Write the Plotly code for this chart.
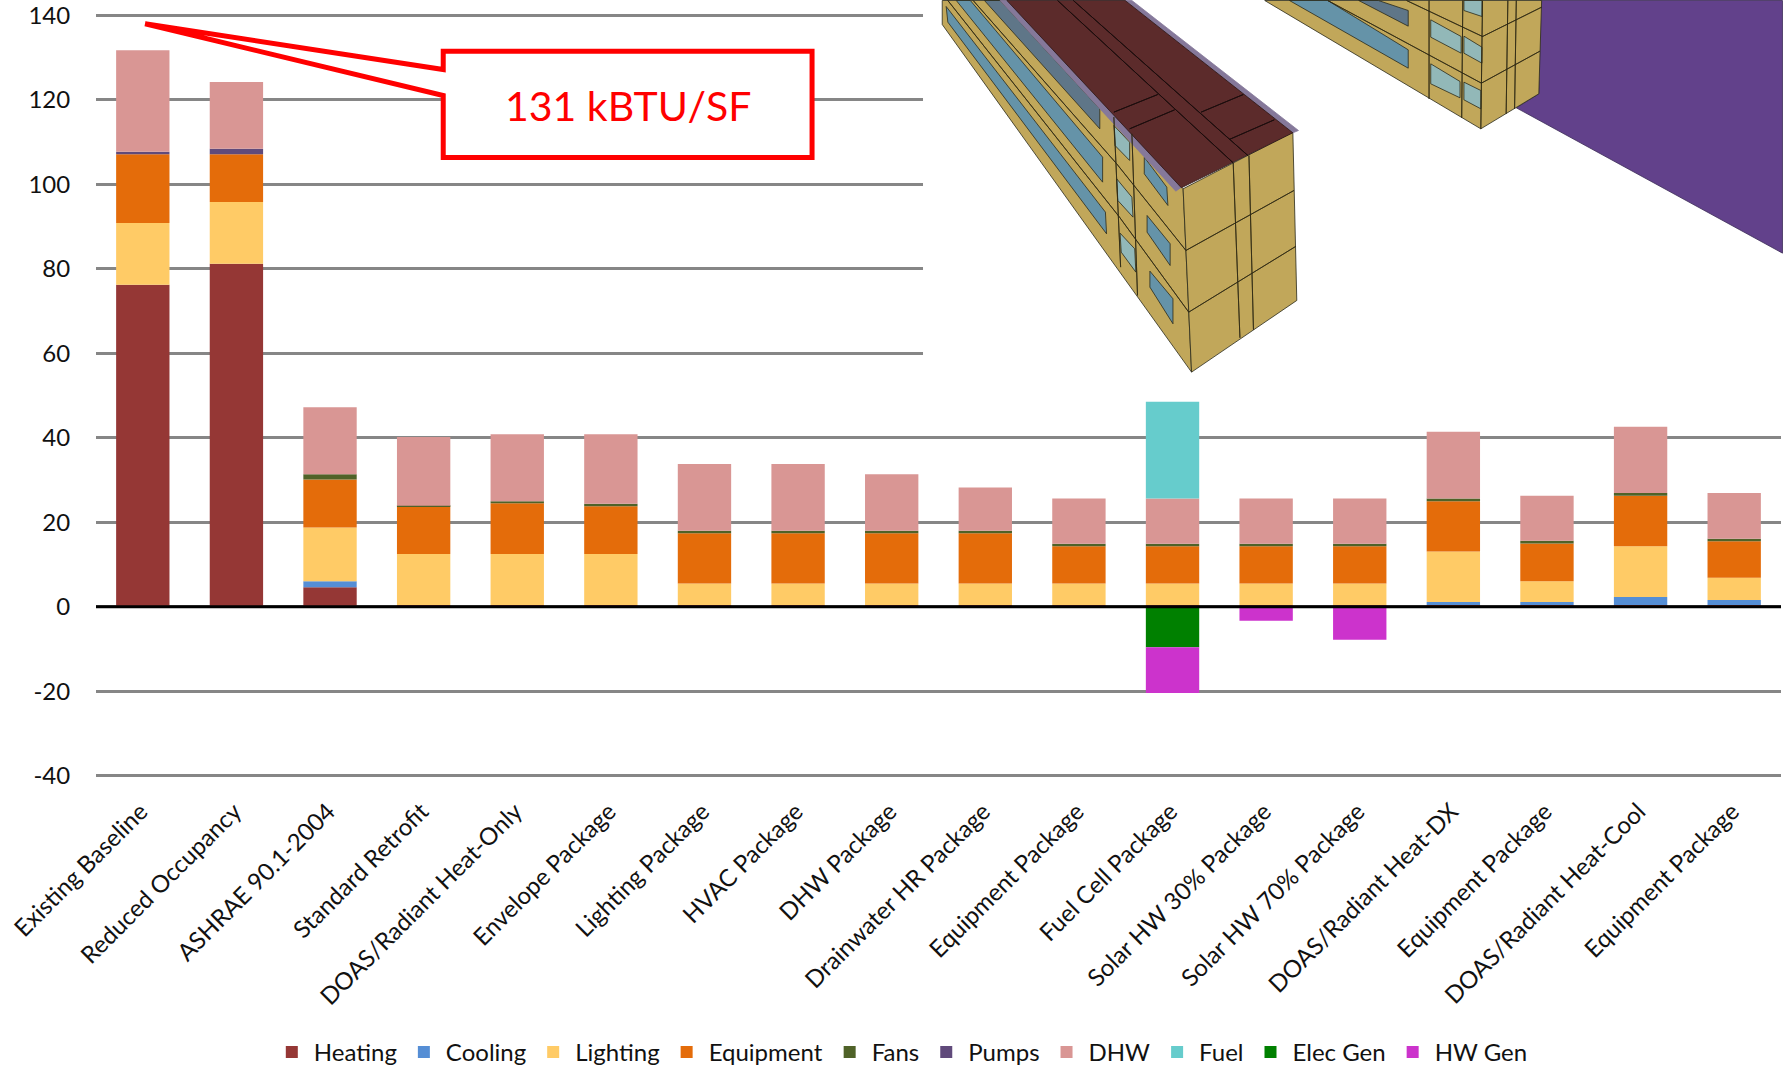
import plotly.graph_objects as go

categories = ["Existing Baseline", "Reduced Occupancy", "ASHRAE 90.1-2004", "Standard Retrofit",
              "DOAS/Radiant Heat-Only", "Envelope Package", "Lighting Package", "HVAC Package",
              "DHW Package", "Drainwater HR Package", "Equipment Package", "Fuel Cell Package",
              "Solar HW 30% Package", "Solar HW 70% Package", "DOAS/Radiant Heat-DX",
              "Equipment Package", "DOAS/Radiant Heat-Cool", "Equipment Package"]

heating   = [76.2, 81.2, 4.6, 0.4, 0.4, 0.4, 0.4, 0.4, 0.4, 0.4, 0.4, 0.4, 0.4, 0.4, 0.4, 0.4, 0.4, 0.4]
cooling   = [0, 0, 1.45, 0, 0, 0, 0, 0, 0, 0, 0, 0, 0, 0, 0.7, 0.7, 1.9, 1.2]
lighting  = [14.6, 14.6, 12.7, 12.1, 12.1, 12.1, 5.1, 5.1, 5.1, 5.1, 5.1, 5.1, 5.1, 5.1, 12.0, 4.95, 12.0, 5.25]
equipment = [16.3, 11.3, 11.35, 11.3, 12.0, 11.3, 11.9, 11.9, 11.9, 11.9, 8.8, 8.8, 8.8, 8.8, 11.9, 8.95, 12.0, 8.65]
fans      = [0, 0, 1.25, 0.1, 0.5, 0.6, 0.6, 0.6, 0.6, 0.6, 0.6, 0.6, 0.6, 0.6, 0.6, 0.6, 0.6, 0.6]
pumps     = [0.6, 1.3, 0, 0, 0, 0, 0, 0, 0, 0, 0, 0, 0, 0, 0, 0, 0, 0]
dhw       = [24.0, 15.8, 15.85, 16.3, 15.8, 16.4, 15.8, 15.8, 13.35, 10.2, 10.7, 10.7, 10.7, 10.7, 15.8, 10.7, 15.7, 10.8]
fuel      = [0, 0, 0, 0, 0, 0, 0, 0, 0, 0, 0, 22.9, 0, 0, 0, 0, 0, 0]
elec_gen  = [0, 0, 0, 0, 0, 0, 0, 0, 0, 0, 0, -9.6, 0, 0, 0, 0, 0, 0]
hw_gen    = [0, 0, 0, 0, 0, 0, 0, 0, 0, 0, 0, -10.8, -3.3, -7.8, 0, 0, 0, 0]

series = [("Heating", heating, "#953735"), ("Cooling", cooling, "#558ED5"),
          ("Lighting", lighting, "#FFCB66"), ("Equipment", equipment, "#E46C0A"),
          ("Fans", fans, "#4F6228"), ("Pumps", pumps, "#604A7B"),
          ("DHW", dhw, "#D99694"), ("Fuel", fuel, "#66CCCC"),
          ("Elec Gen", elec_gen, "#008000"), ("HW Gen", hw_gen, "#CC33CC")]
y_ticks = [-40, -20, 0, 20, 40, 60, 80, 100, 120, 140]
y_tick_labels = ["-40", "-20", "0", "20", "40", "60", "80", "100", "120", "140"]
callout_text = "131 kBTU/SF"

W, H = 1783, 1068
ML, MR, MT, MB = 95.6, 1.6, 10.5, 288.4
FONT = "Lato"

fig = go.Figure()
xs = list(range(len(categories)))
for name, vals, col in series:
    fig.add_trace(go.Bar(name=name, x=xs, y=vals, marker=dict(color=col, line=dict(width=0))))


def px(x, y):
    return (x - ML) / (W - ML - MR), 1 - (y - MT) / (H - MT - MB)


def path(points):
    return "M" + "L".join("%.5f,%.5f" % px(x, y) for x, y in points) + "Z"


def zpath(points):
    return path([(900 + x / 1.776, y / 3) for x, y in points])


shapes = []


def poly(points, fill, edge="#2a2a1a", width=0.8):
    shapes.append(dict(type="path", xref="paper", yref="paper", path=zpath(points),
                       fillcolor=fill, line=dict(color=edge, width=width), layer="above"))


def seg(a, b, edge="#2e2a14", width=0.8):
    poly([a, b], "rgba(0,0,0,0)", edge, width)


# baseline over the bars
shapes.append(dict(type="line", xref="paper", yref="y", x0=0, x1=1, y0=0, y1=0,
                   line=dict(color="black", width=3), layer="above"))
# picture background
shapes.append(dict(type="path", xref="paper", yref="paper",
                   path=path([(923, 0), (1783, 0), (1783, 380), (923, 380)]),
                   fillcolor="white", line=dict(width=0), layer="above"))

TAN, ROOF, PAR = "#C1A75A", "#5C2B2B", "#85789A"
BLUE, SLATE, PALE = "#6593A8", "#5F7688", "#92B8B8"
# ground plane
poly([(1138, 0), (1568, 0), (1568, 758), (1095, 322), (1135, 280)], "#62418B", "#3a2a55")
# rear building
poly([(648, 0), (1035, 0), (1140, 0), (1135, 280), (1032, 385)], TAN)
poly([(692, 0), (760, 0), (903, 148), (903, 203)], BLUE)
poly([(815, 0), (850, 0), (903, 30), (903, 77)], SLATE)
for w in [[(943, 58), (997, 108), (997, 158), (943, 110)],
          [(1002, 107), (1034, 140), (1034, 188), (1002, 158)],
          [(943, 190), (995, 243), (995, 292), (943, 250)],
          [(1002, 245), (1032, 270), (1032, 325), (1002, 298)],
          [(1002, 0), (1034, 0), (1034, 48), (1002, 30)]]:
    poly(w, PALE)
for a, b in [((1035, 108), (1140, 20)), ((1033, 248), (1137, 152)), ((1035, 0), (1032, 385)),
             ((1080, 0), (1077, 340)), ((1095, 0), (1092, 325)), ((940, 0), (940, 295)),
             ((1000, 0), (998, 352)), ((900, 0), (1035, 108)), ((760, 0), (1033, 248))]:
    seg(a, b)
# front building
poly([(75, 0), (75, 72), (518, 1115), (503, 565), (190, 0)], TAN)
poly([(503, 565), (518, 1115), (705, 900), (698, 395)], TAN)
poly([(150, 0), (178, 0), (355, 325), (355, 385)], SLATE)
poly([(100, 0), (125, 0), (360, 470), (360, 545)], BLUE)
poly([(82, 18), (365, 635), (367, 700), (85, 65)], BLUE)
for w in [[(380, 375), (408, 425), (408, 480), (382, 435)],
          [(385, 535), (412, 590), (414, 650), (387, 600)],
          [(391, 698), (417, 745), (419, 815), (393, 755)]]:
    poly(w, PALE)
for w in [[(434, 470), (474, 560), (476, 615), (434, 520)],
          [(439, 645), (480, 730), (480, 795), (439, 695)],
          [(444, 812), (485, 895), (485, 970), (444, 860)]]:
    poly(w, BLUE)
poly([(178, 0), (190, 0), (500, 560), (490, 572)], PAR, PAR)
poly([(400, 0), (412, 0), (708, 390), (698, 397)], PAR, PAR)
poly([(190, 0), (400, 0), (698, 397), (500, 562)], ROOF, "#2a1515")
for a, b in [((280, 0), (592, 487)), ((308, 0), (618, 465)), ((380, 335), (458, 282)),
             ((408, 385), (488, 328)), ((535, 335), (610, 282)), ((585, 417), (665, 358))]:
    seg(a, b, "#1c0d0d", 1)
for a, b in [((592, 487), (604, 1012)), ((620, 465), (628, 988)), ((508, 750), (700, 570)),
             ((513, 935), (703, 738)), ((130, 0), (385, 490)), ((385, 490), (508, 750)),
             ((85, 0), (390, 650)), ((390, 650), (513, 935)), ((380, 350), (392, 800)),
             ((412, 400), (422, 885))]:
    seg(a, b)

# callout
shapes.append(dict(type="path", xref="paper", yref="paper",
                   path=path([(443, 50.7), (812, 50.7), (812, 157), (443, 157), (443, 95),
                              (144.7, 23.3), (443, 69)]),
                   fillcolor="white", line=dict(color="#FF0000", width=5), layer="above"))

cx, cy = px(628, 105)
fig.update_layout(
    width=W, height=H, autosize=False,
    margin=dict(l=ML, r=MR, t=MT, b=MB, pad=0),
    paper_bgcolor="white", plot_bgcolor="white",
    barmode="relative", bargap=0.43,
    font=dict(family=FONT, size=24, color="#111111"),
    shapes=shapes,
    annotations=[dict(text=callout_text, x=cx, y=cy, xref="paper", yref="paper", showarrow=False,
                      xanchor="center", yanchor="middle", font=dict(family=FONT, size=41, color="#FF0000"))],
    xaxis=dict(range=[-0.5, 17.5], tickmode="array", tickvals=xs, ticktext=categories, tickangle=-45,
               showgrid=False, zeroline=False, showline=False, ticks="outside", ticklen=7, automargin=False,
               tickcolor="rgba(0,0,0,0)", tickfont=dict(size=24), ticklabelshift=-2),
    yaxis=dict(range=[-41, 141], tickmode="array", tickvals=y_ticks, ticktext=y_tick_labels,
               showgrid=True, gridcolor="#868686", gridwidth=2.7, zeroline=False, showline=False,
               ticks="outside", ticklen=20, tickcolor="rgba(0,0,0,0)", tickfont=dict(size=24),
               ticklabeloverflow="allow", automargin=False),
    legend=dict(orientation="h", xref="container", yref="container", x=0.5055, xanchor="center",
                y=0.0145, yanchor="middle", traceorder="normal", font=dict(size=24), itemwidth=34,
                bgcolor="rgba(0,0,0,0)"),
)
fig.write_html("out.html", config=dict(displayModeBar=False),
               post_script="document.body.style.margin='0';document.body.style.overflow='hidden';")
